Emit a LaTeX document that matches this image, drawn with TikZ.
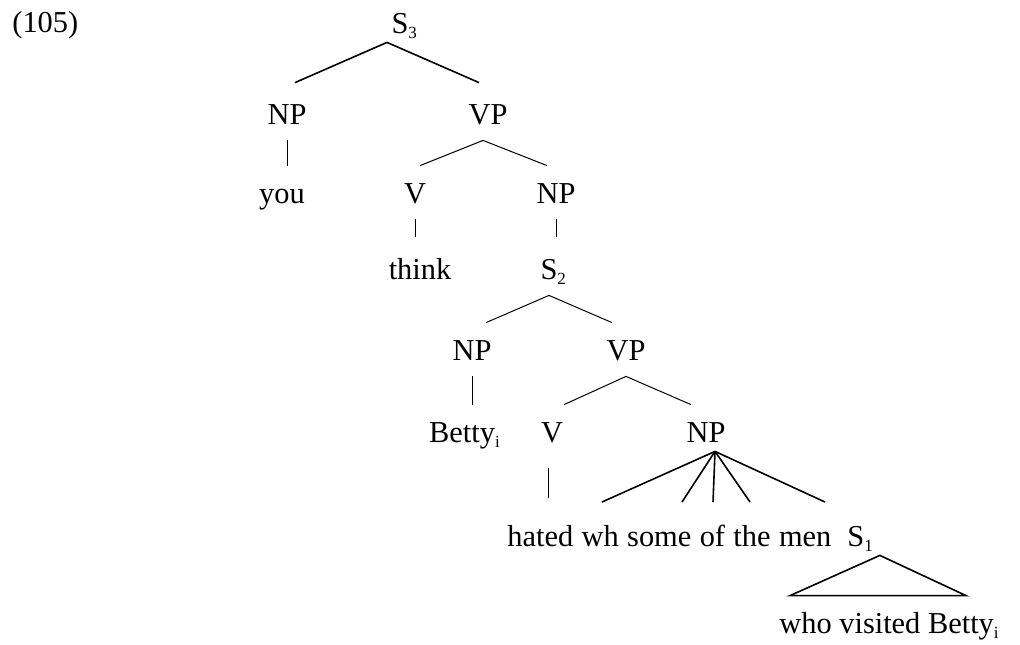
\documentclass[tikz,border=0pt]{standalone}
\usepackage{fontspec}
\usetikzlibrary{positioning}
\setmainfont{Liberation Serif}
\newcommand{\idx}[1]{\raisebox{-2.5pt}{\fontsize{8.5}{8.5}\selectfont #1}}
\tikzset{
  cat/.style={anchor=base, inner sep=0pt, text height=18.5pt, text depth=8pt},
  br/.style={line width=0.5pt},
  brk/.style={line width=0.8pt}
}
\begin{document}
\begin{tikzpicture}[x=0.5pt,y=-0.5pt,font=\fontsize{15.2}{18}\selectfont]
  \useasboundingbox (0,0) rectangle (1020,644);
  \node[anchor=base west,inner sep=0pt] (ex) at (12,32) {(105)};
  % categories
  \node[cat] (s3) at (400,33) {S\rlap{\idx{3}}};
  \node[cat] (np1) at (287,124) {NP};
  \node[cat] (vp1) at (488,124) {VP};
  \node[cat] (you) at (282,203) {you};
  \node[cat] (v1) at (415,203) {V};
  \node[cat] (np2) at (556,203) {NP};
  \node[cat] (think) at (420,279) {think};
  \node[cat] (s2) at (549,279) {S\rlap{\idx{2}}};
  \node[cat] (np3) at (472,360) {NP};
  \node[cat] (vp3) at (626,360) {VP};
  \node[cat] (betty) at (464.5,442) {Betty\idx{i}};
  \node[cat] (v3) at (552,442) {V};
  \node[cat] (np4) at (706,442) {NP};
  % bottom line
  \node[cat,anchor=base west] (hated) at (507,546) {hated};
  \node[cat,base right=3.8pt of hated] (wh) {wh};
  \node[cat,base right=3.8pt of wh] (some) {some};
  \node[cat,base right=3.8pt of some] (of) {of};
  \node[cat,base right=3.8pt of of] (the) {the};
  \node[cat,base right=3.8pt of the] (men) {men};
  \node[cat,anchor=base west] (s1) at (847,546) {S\rlap{\idx{1}}};
  \node[cat] (who) at (889,633) {who visited Betty\idx{i}};
  % branches
  \draw[brk] ([xshift=-6.5pt,yshift=3.5pt]s3.south) -- ([xshift=4pt,yshift=2pt]np1.north);
  \draw[brk] ([xshift=-6.5pt,yshift=3.5pt]s3.south) -- ([xshift=-4.5pt,yshift=2pt]vp1.north);
  \draw[br] (np1.south) -- (np1.south |- you.north);
  \draw[br] ([xshift=-2.5pt]vp1.south) -- ([xshift=2.5pt]v1.north);
  \draw[br] ([xshift=-2.5pt]vp1.south) -- ([xshift=-4.5pt]np2.north);
  \draw[br,shorten >=2.5pt] (v1.south) -- (v1.south |- think.north);
  \draw[br,shorten >=2.5pt] (np2.south) -- (np2.south |- s2.north);
  \draw[br] (s2.south) -- ([xshift=7pt]np3.north);
  \draw[br] (s2.south) -- ([xshift=-7pt]vp3.north);
  \draw[br] (np3.south) -- (np3.south |- betty.north);
  \draw[br] (vp3.south) -- ([xshift=6pt]v3.north);
  \draw[br] (vp3.south) -- ([xshift=-7.5pt]np4.north);
  \coordinate (v3b) at ([xshift=-2pt]v3.south);
  \draw[br,shorten <=5pt,shorten >=5.5pt] (v3b) -- (v3b |- hated.north);
  % flat NP
  \coordinate (np4top) at ([xshift=4.5pt,yshift=3.5pt]np4.south);
  \foreach \x [count=\i] in {602,682,713,750,825} \coordinate (f\i) at (\x,502);
  \foreach \i in {1,...,5} \draw[brk] (np4top) -- (f\i);
  % S1 triangle
  \draw[brk] ([xshift=12pt,yshift=3.5pt]s1.south) -- ([xshift=-16.5pt]who.north east)
    -- ([xshift=5.5pt]who.north west) -- cycle;
\end{tikzpicture}
\end{document}
